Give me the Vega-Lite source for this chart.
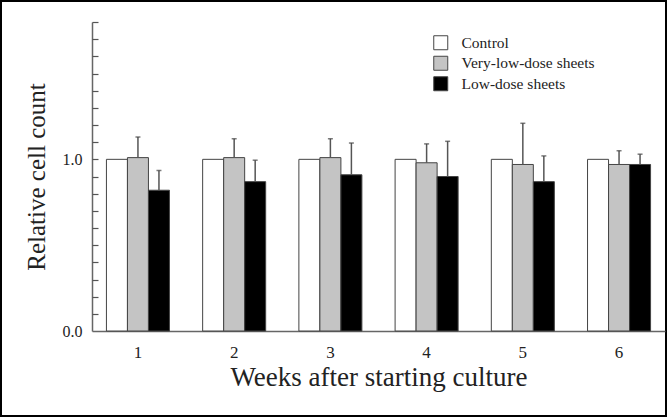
{
  "$schema": "https://vega.github.io/schema/vega-lite/v6.json",
  "width": 667,
  "height": 417,
  "autosize": {"type": "none"},
  "padding": 0,
  "background": "white",
  "config": {
    "font": "Liberation Serif",
    "view": {"stroke": "black", "strokeWidth": 4}
  },
  "data": {
    "values": [
      {"week": "1", "group": "Control", "value": 1.0, "err": null},
      {"week": "1", "group": "Very-low-dose sheets", "value": 1.01, "err": 1.13},
      {"week": "1", "group": "Low-dose sheets", "value": 0.82, "err": 0.935},
      {"week": "2", "group": "Control", "value": 1.0, "err": null},
      {"week": "2", "group": "Very-low-dose sheets", "value": 1.01, "err": 1.12},
      {"week": "2", "group": "Low-dose sheets", "value": 0.87, "err": 0.995},
      {"week": "3", "group": "Control", "value": 1.0, "err": null},
      {"week": "3", "group": "Very-low-dose sheets", "value": 1.01, "err": 1.12},
      {"week": "3", "group": "Low-dose sheets", "value": 0.91, "err": 1.095},
      {"week": "4", "group": "Control", "value": 1.0, "err": null},
      {"week": "4", "group": "Very-low-dose sheets", "value": 0.98, "err": 1.09},
      {"week": "4", "group": "Low-dose sheets", "value": 0.9, "err": 1.105},
      {"week": "5", "group": "Control", "value": 1.0, "err": null},
      {"week": "5", "group": "Very-low-dose sheets", "value": 0.97, "err": 1.21},
      {"week": "5", "group": "Low-dose sheets", "value": 0.87, "err": 1.02},
      {"week": "6", "group": "Control", "value": 1.0, "err": null},
      {"week": "6", "group": "Very-low-dose sheets", "value": 0.97, "err": 1.05},
      {"week": "6", "group": "Low-dose sheets", "value": 0.97, "err": 1.03}
    ]
  },
  "encoding": {
    "x": {
      "field": "week",
      "type": "nominal",
      "scale": {"range": [92, 665], "paddingInner": 0.345, "paddingOuter": 0.15},
      "axis": {
        "orient": "bottom",
        "offset": -86,
        "title": "Weeks after starting culture",
        "labelAngle": 0,
        "ticks": false,
        "domainColor": "#666",
        "domainWidth": 1.5,
        "labelFont": "Liberation Serif",
        "labelFontSize": 17,
        "labelColor": "#222",
        "labelPadding": 13,
        "titleFont": "Liberation Serif",
        "titleFontSize": 27,
        "titleFontWeight": "normal",
        "titleColor": "#222",
        "titlePadding": 4
      }
    },
    "xOffset": {
      "field": "group",
      "type": "nominal",
      "sort": ["Control", "Very-low-dose sheets", "Low-dose sheets"],
      "scale": {"paddingInner": 0, "paddingOuter": 0}
    }
  },
  "resolve": {"axis": {"y": "independent"}},
  "layer": [
    {
      "mark": {"type": "bar", "stroke": "#444", "strokeWidth": 1},
      "encoding": {
        "y": {
          "field": "value",
          "type": "quantitative",
          "scale": {"domain": [0, 1.8], "range": [331, 22], "nice": false, "zero": true},
          "axis": {
            "orient": "left",
            "offset": -92,
            "title": "Relative cell count",
            "values": [0, 1],
            "format": ".1f",
            "grid": false,
            "domainColor": "#666",
            "domainWidth": 1.5,
            "ticks": false,
            "labelFont": "Liberation Serif",
            "labelFontSize": 16,
            "labelColor": "#222",
            "labelPadding": 10,
            "titleFont": "Liberation Serif",
            "titleFontSize": 25,
            "titleFontWeight": "normal",
            "titleColor": "#222",
            "titlePadding": 13
          }
        },
        "fill": {
          "field": "group",
          "type": "nominal",
          "sort": ["Control", "Very-low-dose sheets", "Low-dose sheets"],
          "scale": {"domain": ["Control", "Very-low-dose sheets", "Low-dose sheets"], "range": ["#ffffff", "#c4c4c4", "#000000"]},
          "legend": {
            "orient": "none",
            "legendX": 433,
            "legendY": 35,
            "title": null,
            "symbolType": "square",
            "symbolSize": 196,
            "symbolStrokeColor": "#444",
            "symbolStrokeWidth": 1,
            "symbolOpacity": 1,
            "labelFont": "Liberation Serif",
            "labelFontSize": 15.5,
            "labelColor": "#222",
            "labelOffset": 13,
            "rowPadding": 1.5
          }
        }
      }
    },
    {
      "transform": [{"filter": "datum.err != null"}],
      "mark": {"type": "rule", "color": "#555", "strokeWidth": 1.5},
      "encoding": {
        "y": {
          "field": "value",
          "type": "quantitative",
          "axis": {
            "orient": "right",
            "offset": -575,
            "title": null,
            "values": [0.1, 0.2, 0.3, 0.4, 0.5, 0.6, 0.7, 0.8, 0.9, 1, 1.1, 1.2, 1.3, 1.4, 1.5, 1.6, 1.7, 1.8],
            "labels": false,
            "domain": false,
            "grid": false,
            "ticks": true,
            "tickColor": "#555",
            "tickSize": 6,
            "tickWidth": 1.2
          }
        },
        "y2": {"field": "err"}
      }
    },
    {
      "transform": [{"filter": "datum.err != null"}],
      "mark": {"type": "tick", "orient": "horizontal", "color": "#444", "size": 5, "thickness": 1.5},
      "encoding": {
        "y": {"field": "err", "type": "quantitative", "axis": null}
      }
    }
  ]
}
